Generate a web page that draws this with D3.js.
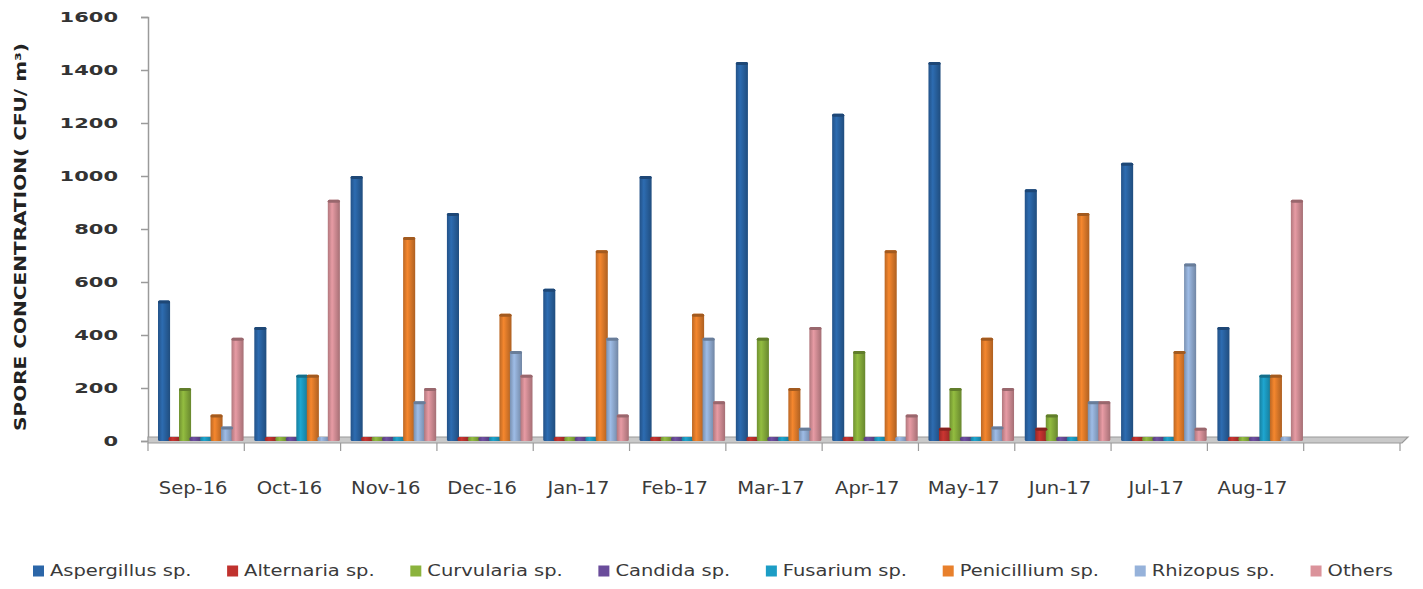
<!DOCTYPE html>
<html>
<head>
<meta charset="utf-8">
<script src="https://cdn.jsdelivr.net/npm/d3@7"></script>
<style>
  body { margin: 0; background: #fff; }
  text { font-family: "DejaVu Sans", sans-serif; fill: #3a3a3a; }
</style>
</head>
<body>
<script>
// --- data ---
const months = ["Sep-16", "Oct-16", "Nov-16", "Dec-16", "Jan-17", "Feb-17",
                "Mar-17", "Apr-17", "May-17", "Jun-17", "Jul-17", "Aug-17"];
const seriesNames = ["Aspergillus sp.", "Alternaria sp.", "Curvularia sp.", "Candida sp.",
                     "Fusarium sp.", "Penicillium sp.", "Rhizopus sp.", "Others"];
const seriesColors = ["#2b66a8", "#c0322e", "#8bb33d", "#6a4c9b",
                      "#1c9dc5", "#e8802c", "#96b2da", "#db939b"];

const aspergillus = [530, 430, 1000, 860, 575, 1000, 1430, 1235, 1430, 950, 1050, 430];
const alternaria  = [0, 0, 0, 0, 0, 0, 0, 0, 50, 50, 0, 0];
const curvularia  = [200, 0, 0, 0, 0, 0, 390, 340, 200, 100, 0, 0];
const candida     = [0, 0, 0, 0, 0, 0, 0, 0, 0, 0, 0, 0];
const fusarium    = [0, 250, 0, 0, 0, 0, 0, 0, 0, 0, 0, 250];
const penicillium = [100, 250, 770, 480, 720, 480, 200, 720, 390, 860, 340, 250];
const rhizopus    = [55, 0, 150, 340, 390, 390, 50, 0, 55, 150, 670, 0];
const others      = [390, 910, 200, 250, 100, 150, 430, 100, 200, 150, 50, 910];

const yTicks = [0, 200, 400, 600, 800, 1000, 1200, 1400, 1600];

const seriesValues = [aspergillus, alternaria, curvularia, candida,
                      fusarium, penicillium, rhizopus, others];

const width = 1423, height = 589;
const mLeft = 148, mRight = 1400, mTop = 17, mBottom = 441;

const svg = d3.select("body").append("svg")
  .attr("width", width).attr("height", height);

// one empty slot after the last month, like the original
const slots = months.concat([""]);

const x0 = d3.scaleBand().domain(slots).range([mLeft, mRight]);
const x1 = d3.scaleBand().domain(seriesNames).range([10, 94]);
const barW = x1.step() * 1.15;

const y = d3.scaleLinear().domain([0, 1600]).range([mBottom, mTop]);

// cylinder-ish shading per series
const defs = svg.append("defs");
seriesNames.forEach((s, i) => {
  const c = d3.color(seriesColors[i]);
  const g = defs.append("linearGradient").attr("id", "g" + i)
    .attr("x1", "0%").attr("x2", "100%");
  g.append("stop").attr("offset", "0%").attr("stop-color", c.darker(0.6));
  g.append("stop").attr("offset", "35%").attr("stop-color", c.brighter(0.15));
  g.append("stop").attr("offset", "100%").attr("stop-color", c.darker(0.8));
});

// y axis
const yAxis = d3.axisLeft(y).tickValues(yTicks).tickSize(7).tickFormat(d3.format("d"));
const ya = svg.append("g").attr("transform", `translate(${mLeft},0)`).call(yAxis);
ya.select(".domain").attr("stroke", "#9a9a9a").attr("stroke-width", 1.5);
ya.selectAll(".tick line").attr("stroke", "#9a9a9a").attr("stroke-width", 1.5);
ya.selectAll(".tick text")
  .attr("x", 0).attr("dy", "0.35em")
  .attr("transform", "translate(-30,0) scale(1.5,1)")
  .style("font-size", "14px").style("font-weight", "bold")
  .style("fill", "#333");

// floor
svg.append("path")
  .attr("d", `M${mLeft},${mBottom - 4} L${mRight + 8},${mBottom - 4} L${mRight + 2},${mBottom + 2} L${mLeft},${mBottom + 2} Z`)
  .attr("fill", "#c9c9c9").attr("stroke", "#9a9a9a").attr("stroke-width", 1.2);

// x ticks at slot boundaries
const bounds = slots.map(d => x0(d)).concat([mRight]);
svg.selectAll(".xt").data(bounds).enter().append("line")
  .attr("x1", d => d).attr("x2", d => d)
  .attr("y1", mBottom + 2).attr("y2", mBottom + 10)
  .attr("stroke", "#9a9a9a").attr("stroke-width", 1.2);

// bars
const rows = [];
months.forEach((m, mi) => {
  seriesNames.forEach((s, si) => {
    rows.push({ m: m, s: s, si: si, v: seriesValues[si][mi] });
  });
});

svg.append("g").selectAll("rect").data(rows).enter().append("rect")
  .attr("x", d => x0(d.m) + x1(d.s))
  .attr("y", d => Math.min(y(d.v), mBottom - 4))
  .attr("width", barW)
  .attr("height", d => Math.max(mBottom - y(d.v), 4))
  .attr("rx", 1.5)
  .attr("fill", d => `url(#g${d.si})`);

// dark cap on non-zero bars
svg.append("g").selectAll("rect").data(rows.filter(d => d.v > 0)).enter().append("rect")
  .attr("x", d => x0(d.m) + x1(d.s))
  .attr("y", d => y(d.v))
  .attr("width", barW)
  .attr("height", 3)
  .attr("rx", 1.5)
  .attr("fill", d => d3.color(seriesColors[d.si]).darker(1));

// x labels
svg.append("g").selectAll("text").data(months).enter().append("text")
  .attr("text-anchor", "middle")
  .attr("transform", d => `translate(${x0(d) + x0.bandwidth() / 2 - 3},${mBottom + 53}) scale(1.15,1)`)
  .style("font-size", "17px")
  .text(d => d);

// y title
svg.append("text")
  .attr("transform", `translate(26,${(mTop + mBottom) / 2 + 8}) rotate(-90)`)
  .attr("text-anchor", "middle")
  .attr("textLength", 388).attr("lengthAdjust", "spacingAndGlyphs")
  .style("font-size", "15px").style("font-weight", "bold").style("fill", "#222")
  .text("SPORE CONCENTRATION( CFU/ m\u00B3)");

// legend laid out between the measured item widths
const legY = 571, legL = 33, legR = 1393, sq = 11, sqGap = 6, sx = 1.3;
const leg = svg.append("g");
const items = leg.selectAll("g").data(seriesNames).enter().append("g");
items.append("rect")
  .attr("width", sq).attr("height", sq).attr("y", -sq / 2)
  .attr("fill", (d, i) => seriesColors[i]);
items.append("text")
  .attr("dy", "0.35em")
  .attr("transform", `translate(${sq + sqGap},0) scale(${sx},1)`)
  .style("font-size", "15px")
  .text(d => d);
const widths = [];
items.each(function() {
  widths.push(sq + sqGap + d3.select(this).select("text").node().getComputedTextLength() * sx);
});
const gap = (legR - legL - d3.sum(widths)) / (widths.length - 1);
let cx = legL;
items.attr("transform", (d, i) => {
  const t = `translate(${cx},${legY})`;
  cx += widths[i] + gap;
  return t;
});
</script>
</body>
</html>
